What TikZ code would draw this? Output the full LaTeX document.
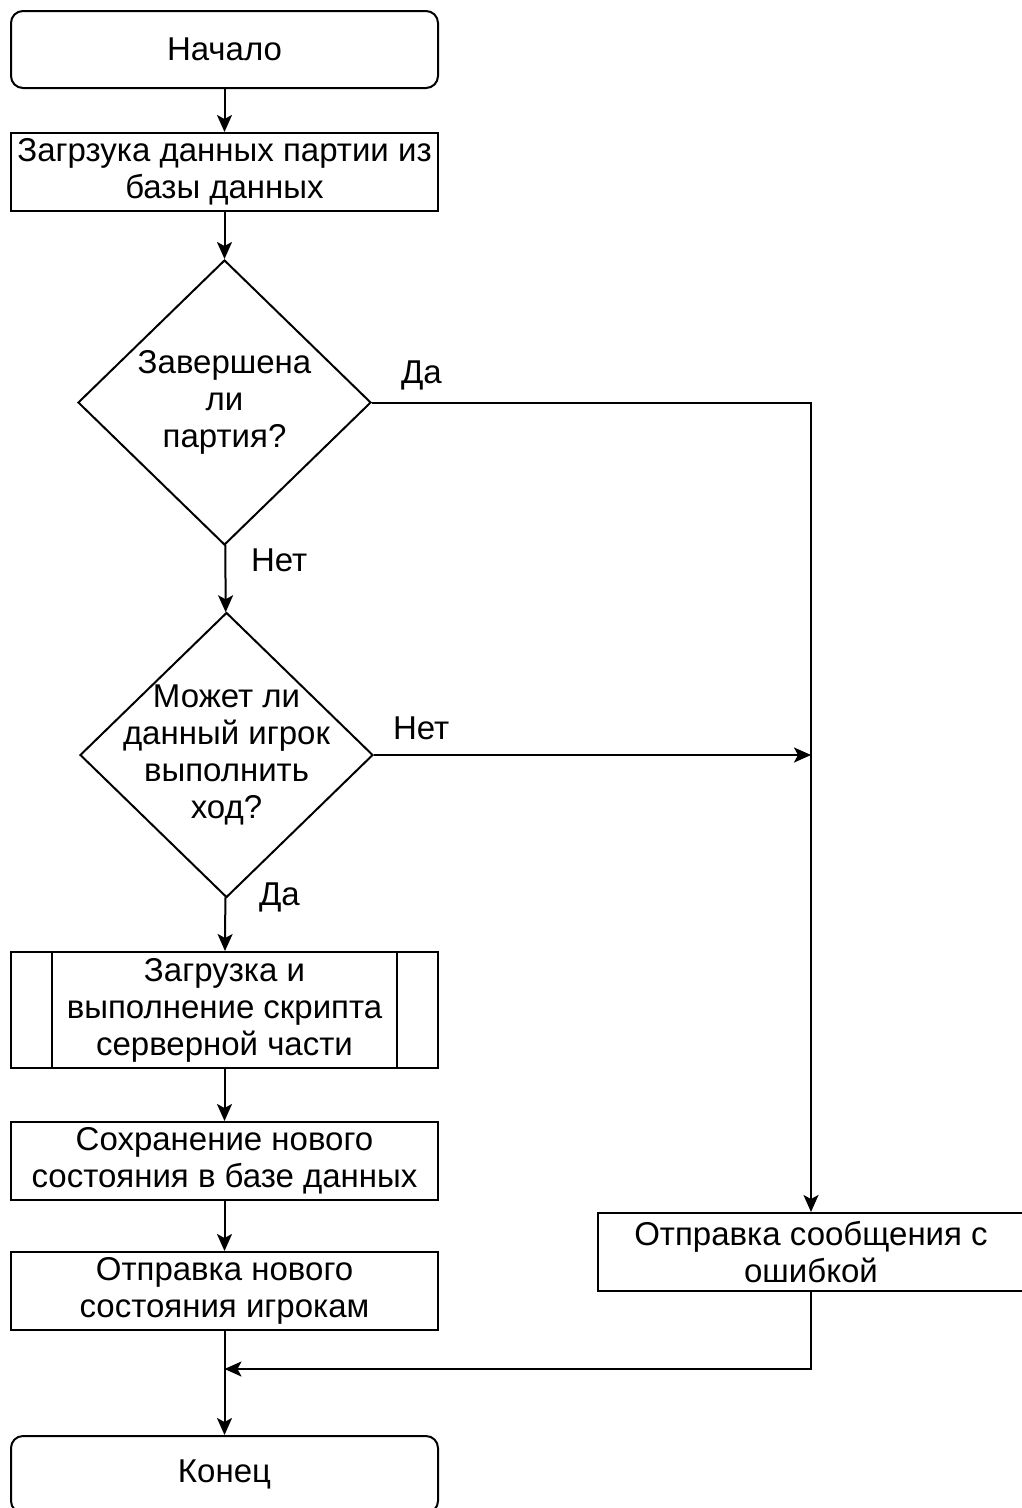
\documentclass[tikz,border=0pt]{standalone}
\usepackage{fontspec}
\setmainfont{Liberation Sans}
\usetikzlibrary{shapes.geometric, arrows.meta}

\begin{document}
\begin{tikzpicture}[x=1pt, y=-1pt, line width=2pt,
    >={Stealth[length=17pt, width=15pt, inset=4pt]},
    every node/.style={font=\fontsize{33}{37}\selectfont},
    term/.style={draw, rounded corners=12pt, minimum width=427pt, minimum height=77pt, inner sep=0pt, align=center},
    proc/.style={draw, rectangle, minimum width=427pt, minimum height=78pt, inner sep=0pt, align=center},
    decision/.style={draw, diamond, minimum width=293pt, minimum height=285pt, inner sep=0pt},
    lbl/.style={anchor=west, inner sep=0pt}]
    \useasboundingbox (0,0) rectangle (1022,1508);

    % 1. Начало и загрузка
    \node[term] (start) at (224.5,49.5) {Начало};
    \node[proc] (load) at (224.5,172) {Загрзука данных партии из\\базы данных};

    % 2. Ромбы условий
    \node[decision, label={[align=center]center:{Завершена\\ли\\партия?}}] (d1) at (224.5,402.5) {};
    \node[decision, label={[align=center]center:{Может ли\\данный игрок\\выполнить\\ход?}}] (d2) at (226.5,755) {};

    % 3. Левая ветка
    \node[proc, minimum height=116pt] (script) at (224.5,1010) {Загрузка и\\выполнение скрипта\\серверной части};
    \draw ([xshift=42pt]script.north west) -- ([xshift=42pt]script.south west);
    \draw ([xshift=-42pt]script.north east) -- ([xshift=-42pt]script.south east);
    \node[proc] (save) at (224.5,1161) {Сохранение нового\\состояния в базе данных};
    \node[proc] (send) at (224.5,1291) {Отправка нового\\состояния игрокам};
    \node[term] (finish) at (224.5,1474.5) {Конец};

    % 4. Правая ветка (ошибка)
    \node[proc] (err) at (811,1252) {Отправка сообщения с\\ошибкой};
    \coordinate (join) at (224.5,1369);

    % 5. Стрелки
    \draw[->] (start) -- (load);
    \draw[->] (load) -- (d1);
    \draw[->] (d1) -- (d2);
    \draw[->] (d1.east) -| (err.north);
    \draw[->] (d2.east) -- (d2.east -| err.north);
    \draw[->] (d2) -- (script);
    \draw[->] (script) -- (save);
    \draw[->] (save) -- (send);
    \draw[->] (send) -- (finish);
    \draw[->] (err.south) |- (join);

    % 6. Подписи
    \node[lbl] (yes1) at (400,375) {Да};
    \node[lbl] (no1) at (250,560) {Нет};
    \node[lbl] (no2) at (392,728) {Нет};
    \node[lbl] (yes2) at (258,897) {Да};

\end{tikzpicture}
\end{document}
